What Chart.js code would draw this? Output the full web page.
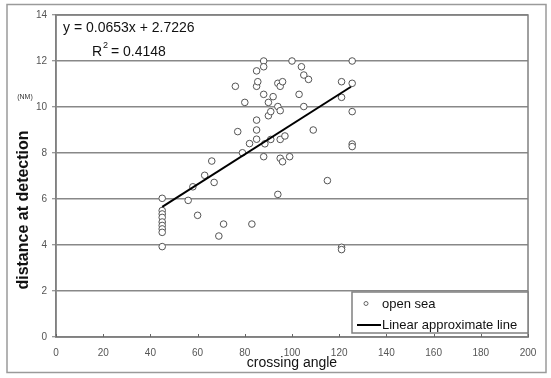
<!DOCTYPE html>
<html>
<head>
<meta charset="utf-8">
<script src="https://cdn.jsdelivr.net/npm/chart.js@4"></script>
<style>
  html, body { margin: 0; padding: 0; background: #fff; }
  #wrap { width: 551px; height: 378px; }
</style>
</head>
<body>
<div id="wrap"><canvas id="myChart" width="551" height="378"></canvas></div>
<script>
// 読み取り値 (crossing angle / distance at detection)
var seaX = [45, 45, 45, 45, 45, 45, 45, 45, 45, 56, 58, 60, 63, 66, 67, 69, 71, 76, 77, 79,
            80, 82, 83, 85, 85, 85, 85, 85, 85.5, 88, 88, 88, 88.5, 88, 90, 90, 91, 91, 92, 94,
            94, 94, 95, 95, 95, 95, 96, 96, 97, 99, 100, 103, 104, 105, 105, 107, 109, 115, 121, 121,
            121, 121, 125.5, 125.5, 125.5, 125.5, 125.5];
var seaY = [6.03, 5.5, 5.35, 5.2, 5.0, 4.85, 4.7, 4.55, 3.93, 5.94, 6.53, 5.29, 7.03, 7.65, 6.72, 4.39, 4.91, 10.9, 8.93, 8.01,
            10.2, 8.41, 4.91, 11.57, 10.9, 9.43, 9.0, 8.6, 11.1, 12.0, 11.75, 10.55, 8.4, 7.84, 10.2, 9.62, 9.8, 8.59, 10.45, 11.03,
            10.02, 6.2, 10.9, 9.84, 8.59, 7.77, 11.1, 7.62, 8.74, 7.84, 12.0, 10.55, 11.75, 11.39, 10.02, 11.2, 9.0, 6.8, 11.1, 10.42,
            3.9, 3.8, 12.0, 11.03, 9.8, 8.39, 8.28];
// 近似直線の両端
var trendX = [45, 125];
var trendY = [5.66, 10.88];
var xTicks = [0, 20, 40, 60, 80, 100, 120, 140, 160, 180, 200];
var yTicks = [0, 2, 4, 6, 8, 10, 12, 14];

var seaPts = [];
for (let i = 0; i < seaX.length; i++) {
   seaPts.push({x: seaX[i], y: seaY[i]});
}
var trendPts = [];
for (let i = 0; i < trendX.length; i++) {
   trendPts.push({x: trendX[i], y: trendY[i]});
}

var narrow = "'Liberation Sans Narrow', 'Liberation Sans', sans-serif";

// 枠・文字・凡例の描画
var decor = {
  id: 'decor',
  beforeDraw: function(chart) {
    var c = chart.ctx;
    c.save();
    c.fillStyle = '#fff';
    c.fillRect(0, 0, chart.width, chart.height);
    c.strokeStyle = '#9a9a9a';
    c.lineWidth = 1.5;
    c.strokeRect(7, 4.5, 539, 368);
    c.restore();
  },
  afterDraw: function(chart) {
    var c = chart.ctx;
    var a = chart.chartArea;
    var xs = chart.scales.x;
    c.save();
    // 外枠
    c.strokeStyle = '#808080';
    c.lineWidth = 1.5;
    c.strokeRect(a.left, a.top, a.right - a.left, a.bottom - a.top);
    // x軸の目盛り (内向き)
    c.lineWidth = 1;
    c.strokeStyle = '#666';
    xTicks.forEach(function(v) {
      var px = Math.round(xs.getPixelForValue(v)) + 0.5;
      c.beginPath();
      c.moveTo(px, a.bottom);
      c.lineTo(px, a.bottom - 3);
      c.stroke();
    });
    // 式
    c.fillStyle = '#111';
    c.font = '14px ' + narrow;
    c.textBaseline = 'middle';
    c.textAlign = 'left';
    c.fillText('y = 0.0653x + 2.7226', 63, 28);
    c.fillText('R', 92, 52);
    var rw = c.measureText('R').width;
    c.font = '9px ' + narrow;
    c.fillText('2', 92 + rw + 1, 46);
    c.font = '14px ' + narrow;
    c.fillText(' = 0.4148', 92 + rw + 5, 52);
    // 軸タイトル
    c.font = '14px ' + narrow;
    c.textAlign = 'center';
    c.fillText('crossing angle', 292, 363);
    c.save();
    c.translate(24, 210);
    c.rotate(-Math.PI / 2);
    c.font = 'bold 16px ' + narrow;
    c.fillText('distance at detection', 0, 0);
    c.restore();
    c.font = '7px ' + narrow;
    c.fillStyle = '#333';
    c.fillText('(NM)', 25, 97);
    // 凡例
    var lx = 352, ly = 292, lw = a.right - 352, lh = 41;
    c.fillStyle = '#fff';
    c.fillRect(lx, ly, lw, lh);
    c.strokeStyle = '#808080';
    c.lineWidth = 1.5;
    c.strokeRect(lx, ly, lw, lh);
    c.beginPath();
    c.arc(366, 303.5, 2, 0, Math.PI * 2);
    c.strokeStyle = '#666';
    c.lineWidth = 1;
    c.stroke();
    c.beginPath();
    c.moveTo(357, 325);
    c.lineTo(381, 325);
    c.strokeStyle = '#000';
    c.lineWidth = 2;
    c.stroke();
    c.fillStyle = '#111';
    c.font = '13px ' + narrow;
    c.textAlign = 'left';
    c.fillText('open sea', 382, 304);
    c.fillText('Linear approximate line', 382, 325);
    c.restore();
  }
};

var ctx = document.getElementById('myChart');
var myChart = new Chart(ctx, {
  type: 'scatter',
  data: {
    datasets: [{
      label: 'open sea',
      data: seaPts,
      pointStyle: 'circle',
      pointRadius: 3.3,
      pointHoverRadius: 3.3,
      borderColor: '#555',
      backgroundColor: '#fff',
      borderWidth: 1,
      order: 2
    }, {
      label: 'Linear approximate line',
      type: 'line',
      data: trendPts,
      showLine: true,
      borderColor: '#000',
      borderWidth: 2,
      pointRadius: 0,
      fill: false,
      order: 1
    }]
  },
  plugins: [decor],
  options: {
    responsive: false,
    animation: false,
    events: [],
    layout: { padding: { top: 15, right: 23, left: 0, bottom: 0 } },
    plugins: {
      legend: { display: false },
      tooltip: { enabled: false },
      title: { display: false }
    },
    scales: {
      x: {
        type: 'linear',
        min: 0, max: 200,
        afterFit: function(s) { s.height = 41; },
        afterBuildTicks: function(s) { s.ticks = xTicks.map(function(v) { return {value: v}; }); },
        grid: { display: false, drawTicks: false },
        border: { display: true, color: '#808080', width: 1.5 },
        ticks: { padding: 10, color: '#555', font: { size: 10, family: narrow }, maxRotation: 0 }
      },
      y: {
        type: 'linear',
        min: 0, max: 14,
        afterFit: function(s) { s.width = 56; },
        afterBuildTicks: function(s) { s.ticks = yTicks.map(function(v) { return {value: v}; }); },
        grid: { color: '#888', lineWidth: 1.5, tickLength: 4, tickColor: '#777', tickWidth: 1 },
        border: { display: true, color: '#808080', width: 1.5 },
        ticks: { padding: 5, color: '#555', font: { size: 10, family: narrow } }
      }
    }
  }
});
</script>
</body>
</html>
